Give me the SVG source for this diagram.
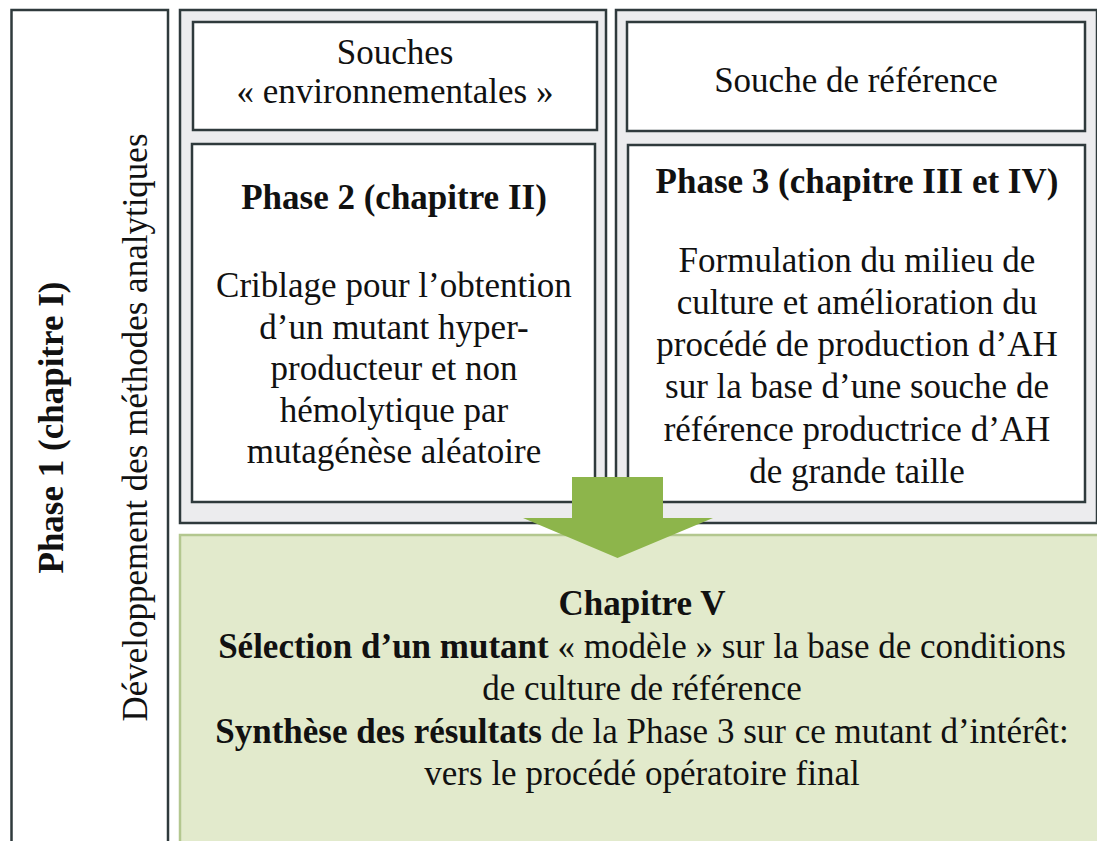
<svg xmlns="http://www.w3.org/2000/svg" width="1097" height="841" viewBox="0 0 1097 841">
<style>
.frame{fill:#ececee;stroke:#2f3a3c;stroke-width:2.5}
.box{fill:#ffffff;stroke:#2f3a3c;stroke-width:2.5}
.t{font-size:35px;fill:#111;text-anchor:middle}
.b{font-weight:bold}
</style>
<rect width="1097" height="841" fill="#ffffff"/>
<g font-family="Liberation Serif, Times New Roman, serif">
<g id="phase1">
<rect x="11.5" y="10" width="156.5" height="840" fill="#ffffff" stroke="#2f3a3c" stroke-width="2.5"/>
<text class="t b" transform="translate(63,427.5) rotate(-90)">Phase 1 (chapitre I)</text>
<text class="t" transform="translate(147,427.5) rotate(-90)">Développement des méthodes analytiques</text>
</g>
<g id="frame-left">
<rect class="frame" x="180" y="10" width="426" height="513"/>
</g>
<g id="frame-right">
<rect class="frame" x="616" y="10" width="481" height="513"/>
</g>
<g id="souches-env">
<rect class="box" x="193" y="22" width="404" height="108"/>
<text class="t" x="395" y="64">Souches</text>
<text class="t" x="395" y="103">« environnementales  »</text>
</g>
<g id="souche-ref">
<rect class="box" x="627" y="22" width="458" height="109"/>
<text class="t" x="856" y="92">Souche de référence</text>
</g>
<g id="phase2">
<rect class="box" x="192" y="144" width="403" height="358"/>
<text class="t b" x="394" y="209">Phase 2 (chapitre II)</text>
<text class="t" x="394" y="297">Criblage pour l’obtention</text>
<text class="t" x="394" y="338.5">d’un mutant hyper-</text>
<text class="t" x="394" y="380">producteur et non</text>
<text class="t" x="394" y="421.5">hémolytique par</text>
<text class="t" x="394" y="463">mutagénèse aléatoire</text>
</g>
<g id="phase3">
<rect class="box" x="628" y="145" width="457" height="357"/>
<text class="t b" x="857" y="193">Phase 3 (chapitre III et IV)</text>
<text class="t" x="857" y="272">Formulation du milieu de</text>
<text class="t" x="857" y="314">culture et amélioration du</text>
<text class="t" x="857" y="356">procédé de production d’AH</text>
<text class="t" x="857" y="398">sur la base d’une souche de</text>
<text class="t" x="857" y="441">référence productrice d’AH</text>
<text class="t" x="857" y="483">de grande taille</text>
</g>
<g id="chapitre5">
<rect x="180" y="535" width="930" height="320" fill="#e2eacc" stroke="#b3c78f" stroke-width="2.5"/>
<text class="t b" x="642" y="615">Chapitre V</text>
<text class="t" x="642" y="657.5"><tspan class="b">Sélection d’un mutant</tspan> « modèle » sur la base de conditions</text>
<text class="t" x="642" y="700">de culture de référence</text>
<text class="t" x="642" y="742.5"><tspan class="b">Synthèse des résultats</tspan> de la Phase 3 sur ce mutant d’intérêt:</text>
<text class="t" x="642" y="785">vers le procédé opératoire final</text>
</g>
</g>
<g id="connectors">
<polygon points="572,477 663,477 663,518 713,518 617.5,558 523,518 572,518" fill="#8db54b"/>
</g>
</svg>
